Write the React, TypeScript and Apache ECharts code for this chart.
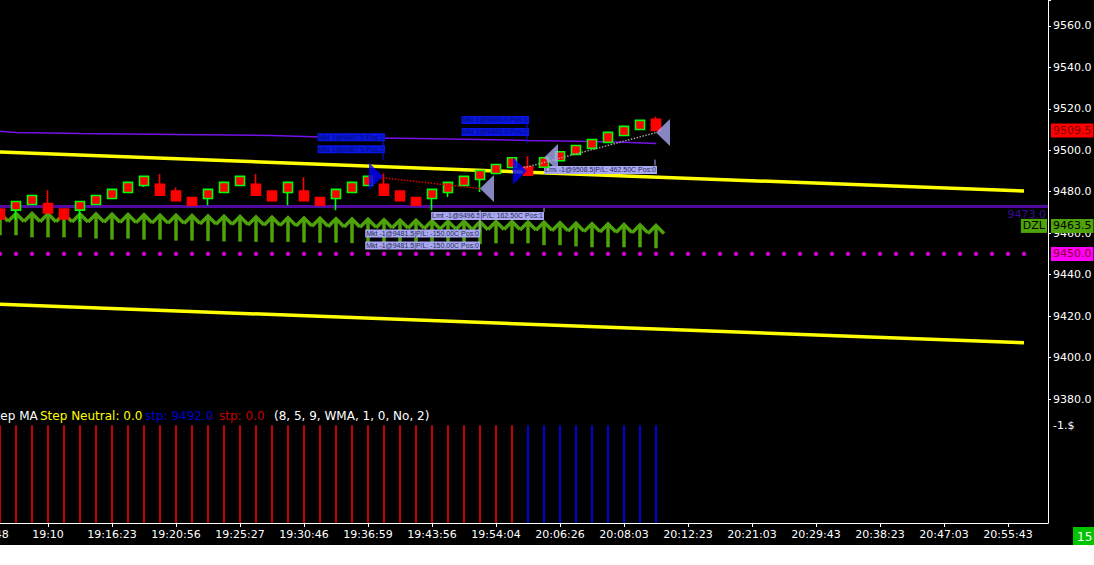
import React, { useEffect, useRef } from "react";
import * as echarts from "echarts";

// ---------- data ----------
// bar slots on the time axis (slot 0 is the partly hidden one at the left edge)
const SLOT_COUNT = 67;
const timeLabels = [
  "19:05:48", "19:10", "19:16:23", "19:20:56", "19:25:27", "19:30:46", "19:36:59",
  "19:43:56", "19:54:04", "20:06:26", "20:08:03", "20:12:23", "20:21:03", "20:29:43",
  "20:38:23", "20:47:03", "20:55:43",
];

// candles for slots 1..42: [open, close, low, high]
const candles: number[][] = [
  [9471.6, 9466.8, 9466.8, 9471.6],
  [9471.1, 9475.3, 9466.3, 9475.3],
  [9473.8, 9478.2, 9473.8, 9478.2],
  [9474.3, 9469.8, 9469.8, 9480.7],
  [9471.6, 9466.8, 9466.8, 9471.6],
  [9471.1, 9475.3, 9465.5, 9475.3],
  [9473.8, 9478.2, 9473.8, 9478.2],
  [9476.7, 9481.1, 9476.7, 9481.1],
  [9479.6, 9484.5, 9479.6, 9484.5],
  [9483.0, 9487.4, 9482.3, 9487.4],
  [9483.6, 9478.3, 9478.3, 9488.5],
  [9480.3, 9475.6, 9475.6, 9482.0],
  [9477.2, 9473.5, 9473.5, 9477.2],
  [9476.7, 9481.1, 9473.5, 9481.1],
  [9479.6, 9484.5, 9479.6, 9484.5],
  [9483.0, 9487.4, 9483.0, 9487.4],
  [9483.6, 9478.3, 9478.3, 9488.5],
  [9480.3, 9475.6, 9475.6, 9480.3],
  [9479.6, 9484.5, 9473.5, 9484.5],
  [9480.3, 9475.6, 9475.6, 9487.0],
  [9477.2, 9473.5, 9473.5, 9477.2],
  [9476.7, 9481.1, 9471.1, 9481.1],
  [9479.6, 9484.5, 9479.6, 9484.5],
  [9483.0, 9487.4, 9483.0, 9487.4],
  [9483.6, 9478.3, 9478.3, 9488.8],
  [9480.3, 9475.6, 9475.6, 9480.7],
  [9477.2, 9473.5, 9473.5, 9477.2],
  [9476.7, 9481.1, 9471.1, 9481.1],
  [9479.6, 9484.5, 9477.5, 9484.5],
  [9483.0, 9487.4, 9483.0, 9487.4],
  [9485.9, 9490.2, 9479.9, 9490.2],
  [9488.8, 9493.1, 9488.8, 9493.1],
  [9491.7, 9496.4, 9491.7, 9496.4],
  [9492.0, 9488.0, 9488.0, 9497.1],
  [9491.8, 9496.4, 9491.8, 9496.4],
  [9494.9, 9499.3, 9494.9, 9499.3],
  [9498.0, 9502.3, 9498.0, 9502.3],
  [9500.9, 9505.2, 9500.9, 9505.2],
  [9503.8, 9508.6, 9503.8, 9508.6],
  [9507.1, 9511.5, 9507.1, 9511.5],
  [9510.0, 9514.4, 9510.0, 9514.4],
  [9514.9, 9509.5, 9509.5, 9516.1],
];
const FIRST_CANDLE_SLOT = 1;

// violet moving average: [slot, value]
const maPoints: number[][] = [
  [1, 9509.2], [2, 9508.6], [6, 9508.1], [12, 9507.6], [18, 9507.1], [22, 9506.2],
  [27, 9505.7], [31, 9505.2], [34, 9504.7], [38, 9504.2], [40, 9503.8], [42, 9503.3],
];

// DZL indicator per candle: top of chevron and bottom of stem
const dzlTop = [
  9469.6, 9469.5, 9469.5, 9469.4, 9469.4, 9469.2, 9469.2, 9469.1, 9469.0, 9468.9,
  9468.7, 9468.6, 9468.5, 9468.3, 9468.2, 9468.0, 9467.8, 9467.7, 9467.5, 9467.3,
  9467.2, 9467.0, 9466.8, 9466.7, 9466.5, 9466.3, 9466.2, 9466.0, 9465.8, 9465.7,
  9465.5, 9465.6, 9465.6, 9465.4, 9465.3, 9465.0, 9464.8, 9464.6, 9464.4, 9464.2,
  9464.0, 9463.7,
];
const dzlBottom = [
  9459.0, 9459.0, 9458.0, 9458.0, 9458.0, 9458.0, 9457.4, 9456.9, 9457.4, 9456.9,
  9456.9, 9456.4, 9456.4, 9456.2, 9456.0, 9455.9, 9455.8, 9455.6, 9455.8, 9455.5,
  9455.3, 9455.4, 9455.2, 9455.0, 9455.1, 9454.8, 9454.9, 9454.7, 9454.8, 9454.6,
  9454.7, 9455.1, 9454.9, 9455.1, 9454.2, 9454.2, 9453.6, 9453.2, 9453.2, 9453.2,
  9453.2, 9452.7,
];

// regression channel lines: [slot, value]
const upperChannel: number[][] = [[0, 9499.4], [65, 9480.3]];
const lowerChannel: number[][] = [[0, 9426.0], [65, 9407.1]];

const levelLine = 9473.0;
const magentaLevel = 9450.0;
const magentaFirstSlot = 1;
const magentaLastSlot = 65;
const lastPrice = 9509.5;
const dzlLast = 9463.5;

// Step MA state per candle (R = down / red, B = up / blue)
const stepState = (
  "RRRRRRRRRR" + "RRRRRRRRRR" + "RRRRRRRRRR" + "RRR" + "BBBBBBBBB"
).split("");

const entries: number[][] = [[24, 9487.5], [33, 9490.0]];
const exits: number[][] = [[31, 9481.5], [35, 9496.5], [42, 9508.5]];
const lossTrade: number[][] = [[24, 9487.5], [31, 9481.5]];
const winTrade: number[][] = [[33, 9490.0], [42, 9508.5]];

const orderLabels = [
  { bar: 24, price: 9487.5, text: "Mkt 1@9487.5 Pos:1", kind: "entry" },
  { bar: 24, price: 9487.5, text: "Mkt 1@9487.5 Pos:2", kind: "entry" },
  { bar: 33, price: 9490.0, text: "Mkt 1@9490.0 Pos:1", kind: "entry" },
  { bar: 33, price: 9490.0, text: "Mkt 1@9490.0 Pos:2", kind: "entry" },
  { bar: 42, price: 9508.5, text: "Lmt -1@9508.5|P/L: 462.50C Pos:0", kind: "exit" },
  { bar: 35, price: 9496.5, text: "Lmt -1@9496.5|P/L: 162.50C Pos:1", kind: "exit" },
  { bar: 31, price: 9481.5, text: "Mkt -1@9481.5|P/L: -150.00C Pos:0", kind: "exit" },
  { bar: 31, price: 9481.5, text: "Mkt -1@9481.5|P/L: -150.00C Pos:0", kind: "exit" },
];

// ---------- layout / style (pixels) ----------
// the chart canvas starts SHIFT px left of the page so the first (half hidden) slot fits
const SHIFT = 24;
const labelLayout = [
  { dx: 17, dy: -39, conn: [15, -35, -16] },
  { dx: 17, dy: -27, conn: null },
  { dx: 17, dy: -51, conn: [15, -47, -28] },
  { dx: 17, dy: -39, conn: null },
  { dx: 1, dy: 37.3, conn: [-1, 27, 33] },
  { dx: 0, dy: 58.5, conn: [0, 49.5, 54.5] },
  { dx: 0, dy: 45, conn: [0, 21.5, 44.5] },
  { dx: 0, dy: 57, conn: null },
];

const GREEN = "#4FA30A";
const YELLOW = "#FFFF00";
const LAV = "#A8A8F0";
const BLUE_LBL = "#0A14E6";
const FONT = "DejaVu Sans";

function isMultiple(v: number, step: number) {
  return Math.abs(v / step - Math.round(v / step)) < 1e-6;
}

function buildOption() {
  const categories = Array.from({ length: SLOT_COUNT }, (_, j) => String(j));

  const candleData = candles.map((c, i) => [i + FIRST_CANDLE_SLOT, c[0], c[1], c[2], c[3]]);
  const dzlData = dzlTop.map((t, i) => [i + FIRST_CANDLE_SLOT, t, dzlBottom[i]]);

  const magentaData: number[][] = [];
  for (let j = magentaFirstSlot; j <= magentaLastSlot; j++) magentaData.push([j, magentaLevel]);

  const stepBars = categories.map((_, j) => {
    const s = stepState[j - FIRST_CANDLE_SLOT];
    if (!s) return "-";
    return { value: 1, itemStyle: { color: s === "R" ? "#C80000" : "#0000DD" } };
  });

  const priceTags = [
    { price: lastPrice, text: lastPrice.toFixed(1), bg: "#FF0000", fg: "#7A0000", side: "axis" },
    { price: dzlLast, text: dzlLast.toFixed(1), bg: "#4FA30A", fg: "#000000", side: "axis" },
    { price: dzlLast, text: "DZL", bg: "#4FA30A", fg: "#000000", side: "inner" },
    { price: magentaLevel, text: magentaLevel.toFixed(1), bg: "#FF00FF", fg: "#8A0020", side: "axis" },
    { price: levelLine, text: levelLine.toFixed(1), bg: "", fg: "#3A0C98", side: "under" },
  ];

  const txt = (x: number, y: number, text: string, fill: string, size: number) => ({
    type: "text", x: x + SHIFT, y,
    style: { text, fill, font: `${size}px '${FONT}'`, verticalAlign: "middle" },
  });

  return {
    animation: false,
    backgroundColor: "transparent",
    grid: [
      { left: 0, top: 0, width: 1072, height: 399, containLabel: false, outerBoundsMode: "none" },
      { left: 0, top: 399, width: 1072, height: 124, containLabel: false, outerBoundsMode: "none" },
    ],
    xAxis: [
      {
        type: "category", gridIndex: 0, data: categories, boundaryGap: true,
        axisLine: { show: false }, axisTick: { show: false }, axisLabel: { show: false },
        splitLine: { show: false },
      },
      {
        type: "category", gridIndex: 1, data: categories, boundaryGap: true,
        axisLine: { show: true, lineStyle: { color: "#FFFFFF", width: 1 } },
        axisTick: { show: true, interval: 3, alignWithLabel: true, length: 4, lineStyle: { color: "#FFFFFF" } },
        axisLabel: {
          show: true, interval: 3, color: "#FFFFFF", fontSize: 11, fontFamily: FONT, margin: 6,
          hideOverlap: false,
          formatter: (_v: string, idx: number) => (idx % 4 === 0 ? timeLabels[idx / 4] || "" : ""),
        },
        splitLine: { show: false },
      },
    ],
    yAxis: [
      {
        type: "value", gridIndex: 0, position: "right", min: 9380, max: 9380 + 399 / 2.073, interval: 20,
        axisLine: { show: true, lineStyle: { color: "#FFFFFF", width: 1 } },
        axisTick: { show: true, length: 3, lineStyle: { color: "#FFFFFF" } },
        axisLabel: {
          color: "#FFFFFF", fontSize: 11, fontFamily: FONT, margin: 5,
          formatter: (v: number) => (isMultiple(v, 20) ? v.toFixed(1) : ""),
        },
        splitLine: { show: false },
      },
      {
        type: "value", gridIndex: 1, position: "right", min: 0, max: 1.27,
        axisLine: { show: true, lineStyle: { color: "#FFFFFF", width: 1 } },
        axisTick: { show: false }, axisLabel: { show: false }, splitLine: { show: false },
      },
    ],
    series: [
      {
        type: "line", name: "upper", data: upperChannel, showSymbol: false, z: 2,
        lineStyle: { color: YELLOW, width: 3.5 }, silent: true,
      },
      {
        type: "line", name: "lower", data: lowerChannel, showSymbol: false, z: 2,
        lineStyle: { color: YELLOW, width: 3.5 }, silent: true,
      },
      {
        type: "line", name: "ma", data: maPoints, showSymbol: false, z: 2,
        lineStyle: { color: "#7412E8", width: 1.5 }, silent: true,
      },
      {
        type: "custom", name: "dzl", data: dzlData, z: 3, clip: false,
        encode: { x: 0, y: [1, 2] },
        renderItem: (_p: any, api: any) => {
          const j = api.value(0);
          const top = api.coord([j, api.value(1)]);
          const bot = api.coord([j, api.value(2)]);
          const half = api.size([1, 0])[0] / 2;
          return {
            type: "group",
            children: [
              {
                type: "polyline",
                shape: { points: [[top[0] - half, top[1] + 8], [top[0], top[1]], [top[0] + half, top[1] + 8]] },
                style: { stroke: GREEN, lineWidth: 3.5, fill: null },
              },
              {
                type: "line",
                shape: { x1: top[0], y1: top[1], x2: bot[0], y2: bot[1] },
                style: { stroke: GREEN, lineWidth: 3.5 },
              },
            ],
          };
        },
      },
      {
        type: "scatter", name: "level", data: magentaData, symbol: "circle", symbolSize: 4.5, z: 3,
        itemStyle: { color: "#FF00FF" }, silent: true,
      },
      {
        type: "custom", name: "orders", data: orderLabels.map((a) => [a.bar, a.price]), z: 4, clip: false,
        encode: { x: 0, y: 1 },
        renderItem: (params: any, api: any) => {
          const i = params.dataIndex;
          const a = orderLabels[i];
          const L = labelLayout[i];
          const p = api.coord([api.value(0), api.value(1)]);
          const entry = a.kind === "entry";
          const children: any[] = [];
          if (L.conn) {
            children.push({
              type: "line",
              shape: { x1: p[0] + L.conn[0], y1: p[1] + L.conn[1], x2: p[0] + L.conn[0], y2: p[1] + L.conn[2] },
              style: { stroke: entry ? BLUE_LBL : LAV, lineWidth: 1 },
            });
          }
          children.push({
            type: "text",
            x: p[0] + L.dx,
            y: p[1] + L.dy,
            style: {
              text: a.text,
              fill: entry ? "#00105A" : "#2A2A58",
              backgroundColor: entry ? BLUE_LBL : LAV,
              padding: [1, 1, 0, 1],
              font: "7px 'Liberation Sans'",
              align: "right",
              verticalAlign: "middle",
            },
          });
          return { type: "group", children };
        },
      },
      {
        type: "candlestick", name: "price", data: candleData, z: 5,
        encode: { x: 0, y: [1, 2, 3, 4] },
        barWidth: 10,
        itemStyle: {
          color: "#FF0000", color0: "#FF0000",
          borderColor: "#00FF00", borderColor0: "#FF0000", borderWidth: 1.6,
        },
        silent: true,
      },
      {
        type: "line", name: "levelLine", data: [], z: 6, silent: true,
        markLine: {
          silent: true, symbol: ["none", "none"], label: { show: false },
          lineStyle: { color: "#500AA0", width: 3, type: "solid" },
          data: [{ yAxis: levelLine }],
        },
      },
      {
        type: "line", name: "lossTrade", data: lossTrade, showSymbol: false, z: 6, silent: true,
        lineStyle: { color: "#E00000", width: 1.5, type: "dotted" },
      },
      {
        type: "line", name: "winTrade", data: winTrade, showSymbol: false, z: 6, silent: true,
        lineStyle: { color: "#A0A0A0", width: 1.5, type: "dotted" },
      },
      {
        type: "scatter", name: "entries", data: entries, z: 7, silent: true,
        symbol: "path://M0,0L14,13.5L0,27Z", symbolSize: [14, 27], symbolOffset: [8, 0],
        itemStyle: { color: "#0000FF" },
      },
      {
        type: "scatter", name: "exits", data: exits, z: 7, silent: true,
        symbol: "path://M14,0L0,13.5L14,27Z", symbolSize: [14, 27], symbolOffset: [7, 0],
        itemStyle: { color: LAV },
      },
      {
        type: "custom", name: "tags", data: priceTags.map((t) => [SLOT_COUNT - 1, t.price]), z: 8, clip: false,
        encode: { x: 0, y: 1 },
        renderItem: (params: any, api: any) => {
          const t = priceTags[params.dataIndex];
          const p = api.coord([api.value(0), api.value(1)]);
          const right = params.coordSys.x + params.coordSys.width;
          let x = right + 3;
          let y = p[1];
          let align = "left";
          if (t.side === "inner") { x = right - 1; align = "right"; }
          if (t.side === "under") { x = right - 2; y = p[1] + 8; align = "right"; }
          const style: any = {
            text: t.text, fill: t.fg, font: `11px '${FONT}'`, align, verticalAlign: "middle",
          };
          if (t.bg) { style.backgroundColor = t.bg; style.padding = [2, 2, 1, 2]; }
          return { type: "text", x, y, style };
        },
      },
      {
        type: "bar", name: "step", xAxisIndex: 1, yAxisIndex: 1, data: stepBars, barWidth: 2, silent: true,
      },
    ],
    graphic: [
      txt(-12, 416, "Step MA", "#FFFFFF", 12),
      txt(40, 416, "Step Neutral: 0.0", "#FFFF00", 12),
      txt(145, 416, "stp: 9492.0", "#0000CD", 12),
      txt(219, 416, "stp: 0.0", "#C00000", 12),
      txt(274, 416, "(8, 5, 9, WMA, 1, 0, No, 2)", "#FFFFFF", 12),
      txt(1053, 425, "-1.$", "#FFFFFF", 11),
      { type: "rect", shape: { x: 1073 + SHIFT, y: 527, width: 21, height: 18 }, style: { fill: "#00C400" } },
      txt(1077, 537, "15", "#FFFFFF", 12),
    ],
  };
}

export default function App() {
  const ref = useRef<HTMLDivElement>(null);
  useEffect(() => {
    if (!ref.current) return;
    const chart = echarts.init(ref.current, null, { renderer: "svg" });
    chart.setOption(buildOption() as any);
    return () => chart.dispose();
  }, []);
  return (
    <div
      style={{
        position: "fixed", left: 0, top: 0, width: 1094, height: 565, overflow: "hidden",
        background: "linear-gradient(#000000 0px, #000000 545px, #ffffff 545px, #ffffff 565px)",
      }}
    >
      <div
        ref={ref}
        style={{ position: "absolute", left: -SHIFT, top: 0, width: 1094 + SHIFT, height: 565 }}
      />
    </div>
  );
}
